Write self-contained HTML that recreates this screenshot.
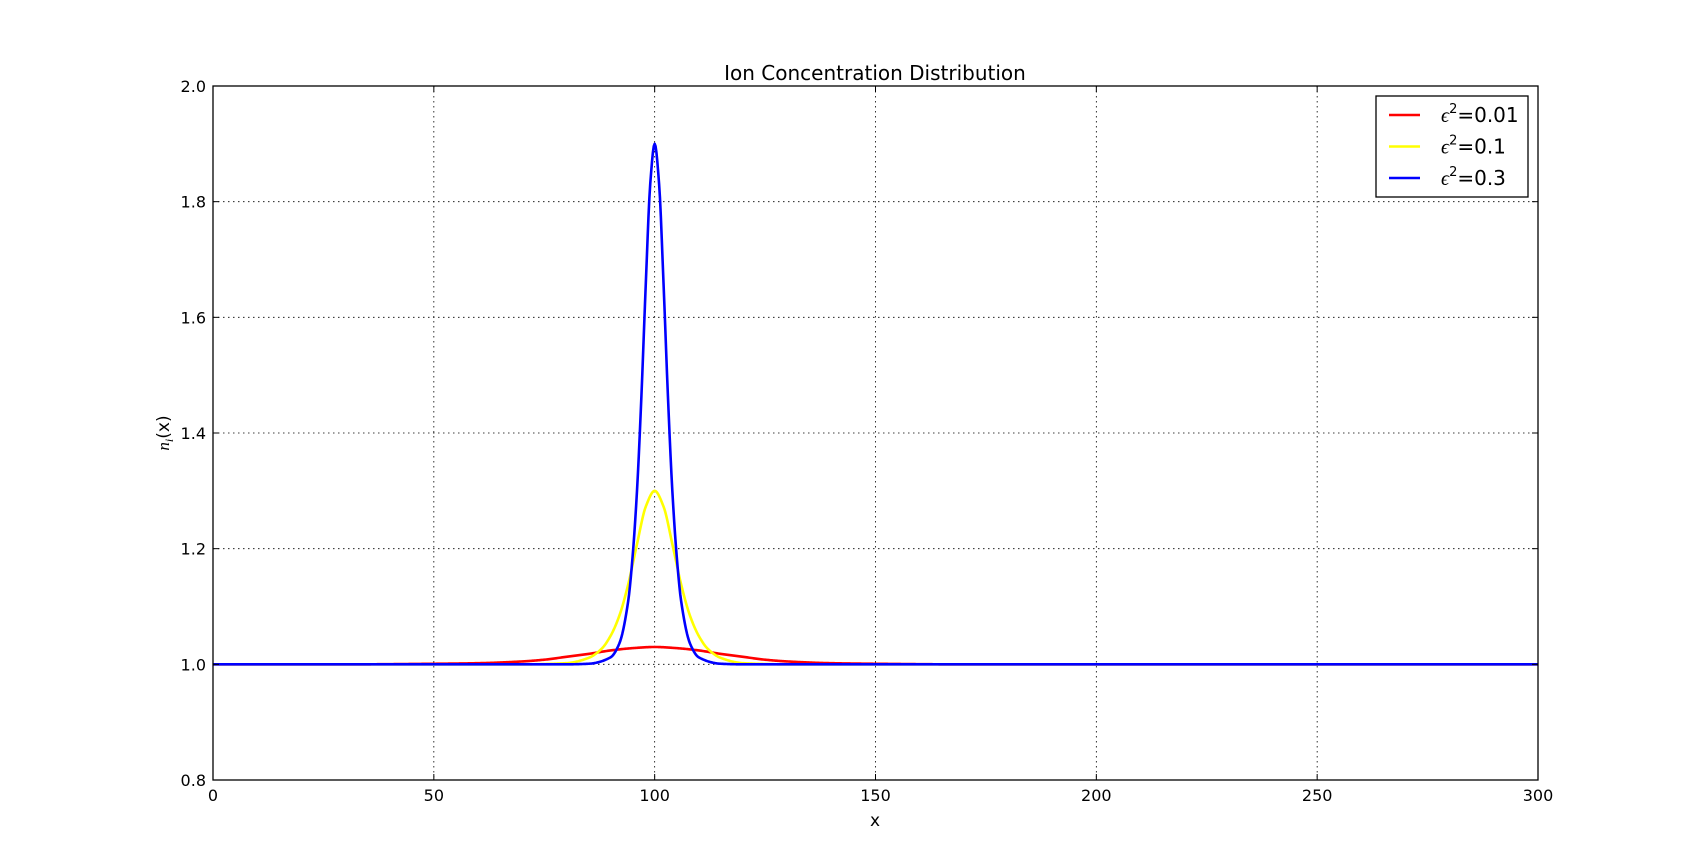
<!DOCTYPE html>
<html><head><meta charset="utf-8"><style>
body{margin:0;background:#fff}
svg{display:block;font-family:"DejaVu Sans","Liberation Sans",sans-serif}
</style></head><body>
<svg id="chart" width="1707" height="867">
<rect width="1707" height="867" fill="#fff"/>
<g id="grid"></g>
<g id="series"></g>
<rect x="213" y="86" width="1325" height="694" fill="none" stroke="#000" stroke-width="1.3"/>
<g id="ticks"></g>
<text x="875" y="80" font-size="20" text-anchor="middle">Ion Concentration Distribution</text>
<text x="875" y="826" font-size="17" text-anchor="middle">x</text>
<text transform="translate(169,433) rotate(-90)" font-size="17" text-anchor="middle"><tspan font-family="Liberation Serif,serif" font-style="italic">n</tspan><tspan font-family="Liberation Serif,serif" font-style="italic" font-size="12" dy="4">i</tspan><tspan dy="-4">(x)</tspan></text>
<g>
<rect x="1376" y="96" width="152" height="101" fill="#fff" stroke="#000" stroke-width="1.3"/>
<g id="legend-items"></g>
</g>
</svg>
<script>
const xTicks=[0,50,100,150,200,250,300];
const yTicks=[0.8,1.0,1.2,1.4,1.6,1.8,2.0];
const seriesNames=["0.01","0.1","0.3"];
const seriesColors=["#ff0000","#ffff00","#0000ff"];
const redX=[0,30,50,60,70,75,80,85,90,95,100,105,110,115,120,125,130,140,150,170,300];
const redY=[1.000,1.000,1.001,1.002,1.005,1.008,1.013,1.018,1.024,1.028,1.030,1.028,1.024,1.018,1.013,1.008,1.005,1.002,1.001,1.000,1.000];
const yelX=[0,70,80,85,88,90,92,94,96,98,100,102,104,106,108,110,112,115,120,130,300];
const yelY=[1.000,1.000,1.002,1.011,1.027,1.049,1.084,1.138,1.208,1.273,1.300,1.273,1.208,1.138,1.084,1.049,1.027,1.011,1.002,1.000,1.000];
const bluX=[0,80,85,90,92,94,95,96,97,98,99,100,101,102,103,104,105,106,108,110,115,120,300];
const bluY=[1.000,1.000,1.001,1.012,1.036,1.109,1.186,1.300,1.464,1.660,1.831,1.900,1.831,1.660,1.464,1.300,1.186,1.109,1.036,1.012,1.001,1.000,1.000];
const L=213,R=1538,T=86,B=780;
const sx=v=>L+(v-0)/(300-0)*(R-L);
const sy=v=>B-(v-0.8)/(2.0-0.8)*(B-T);
const NS="http://www.w3.org/2000/svg";
const grid=document.getElementById('grid'),ticks=document.getElementById('ticks'),ser=document.getElementById('series'),leg=document.getElementById('legend-items');
function mk(tag,attrs,parent){const e=document.createElementNS(NS,tag);for(const k in attrs)e.setAttribute(k,attrs[k]);parent.appendChild(e);return e;}
xTicks.forEach(v=>{const x=sx(v);
 if(v>0&&v<300){const g=mk('line',{x1:x,x2:x,y1:T,y2:B,stroke:'#000','stroke-width':0.8,'stroke-dasharray':'1.5,3.5'},grid);
 
 }
 mk('line',{x1:x,x2:x,y1:B,y2:B-6,stroke:'#000'},ticks);
 mk('line',{x1:x,x2:x,y1:T,y2:T+6,stroke:'#000'},ticks);
 const t=mk('text',{x:x,y:B+21,'font-size':16,'text-anchor':'middle'},ticks);t.textContent=v;
 
 });
yTicks.forEach(v=>{const y=sy(v);
 if(v>0.81&&v<1.99){const g=mk('line',{x1:L,x2:R,y1:y,y2:y,stroke:'#000','stroke-width':0.8,'stroke-dasharray':'1.5,3.5'},grid);
 
 }
 mk('line',{x1:L,x2:L+6,y1:y,y2:y,stroke:'#000'},ticks);
 mk('line',{x1:R,x2:R-6,y1:y,y2:y,stroke:'#000'},ticks);
 const t=mk('text',{x:L-7,y:y+6,'font-size':16,'text-anchor':'end'},ticks);t.textContent=v.toFixed(1);
 
 });
// monotone cubic (Fritsch-Carlson) evaluated densely
function pathFor(xs,ys){const n=xs.length,d=[],m=new Array(n);
 for(let i=0;i<n-1;i++)d.push((ys[i+1]-ys[i])/(xs[i+1]-xs[i]));
 m[0]=d[0];m[n-1]=d[n-2];
 for(let i=1;i<n-1;i++){if(d[i-1]*d[i]<=0)m[i]=0;else{const h0=xs[i]-xs[i-1],h1=xs[i+1]-xs[i];const w1=2*h1+h0,w2=h1+2*h0;m[i]=(w1+w2)/(w1/d[i-1]+w2/d[i]);}}
 let s='M'+sx(xs[0])+','+sy(ys[0]);
 for(let i=0;i<n-1;i++){const h=xs[i+1]-xs[i],steps=Math.max(2,Math.ceil(sx(xs[i+1])-sx(xs[i])));
  for(let k=1;k<=steps;k++){const t=k/steps,t2=t*t,t3=t2*t;
   const y=(2*t3-3*t2+1)*ys[i]+(t3-2*t2+t)*h*m[i]+(-2*t3+3*t2)*ys[i+1]+(t3-t2)*h*m[i+1];
   s+=' L'+sx(xs[i]+t*h).toFixed(2)+','+sy(y).toFixed(2);}}
 return s;}
const data=[[redX,redY],[yelX,yelY],[bluX,bluY]];
const names=['red-line-eps-0.01','yellow-line-eps-0.1','blue-line-eps-0.3'];
data.forEach((s,i)=>{const p=mk('path',{d:pathFor(s[0],s[1]),fill:'none',stroke:seriesColors[i],'stroke-width':2.6,'stroke-linejoin':'round'},ser);
 
 
 const y=115+i*31.5;
 mk('line',{x1:1389,x2:1420,y1:y,y2:y,stroke:seriesColors[i],'stroke-width':2.6},leg);
 const t=mk('text',{x:1441,y:y+7,'font-size':20},leg);
 t.innerHTML='<tspan font-family="Liberation Serif,serif" font-style="italic">ϵ</tspan><tspan font-size="13" dy="-9">2</tspan><tspan dy="9">='+seriesNames[i]+'</tspan>';
 
 });
</script>
</body></html>
